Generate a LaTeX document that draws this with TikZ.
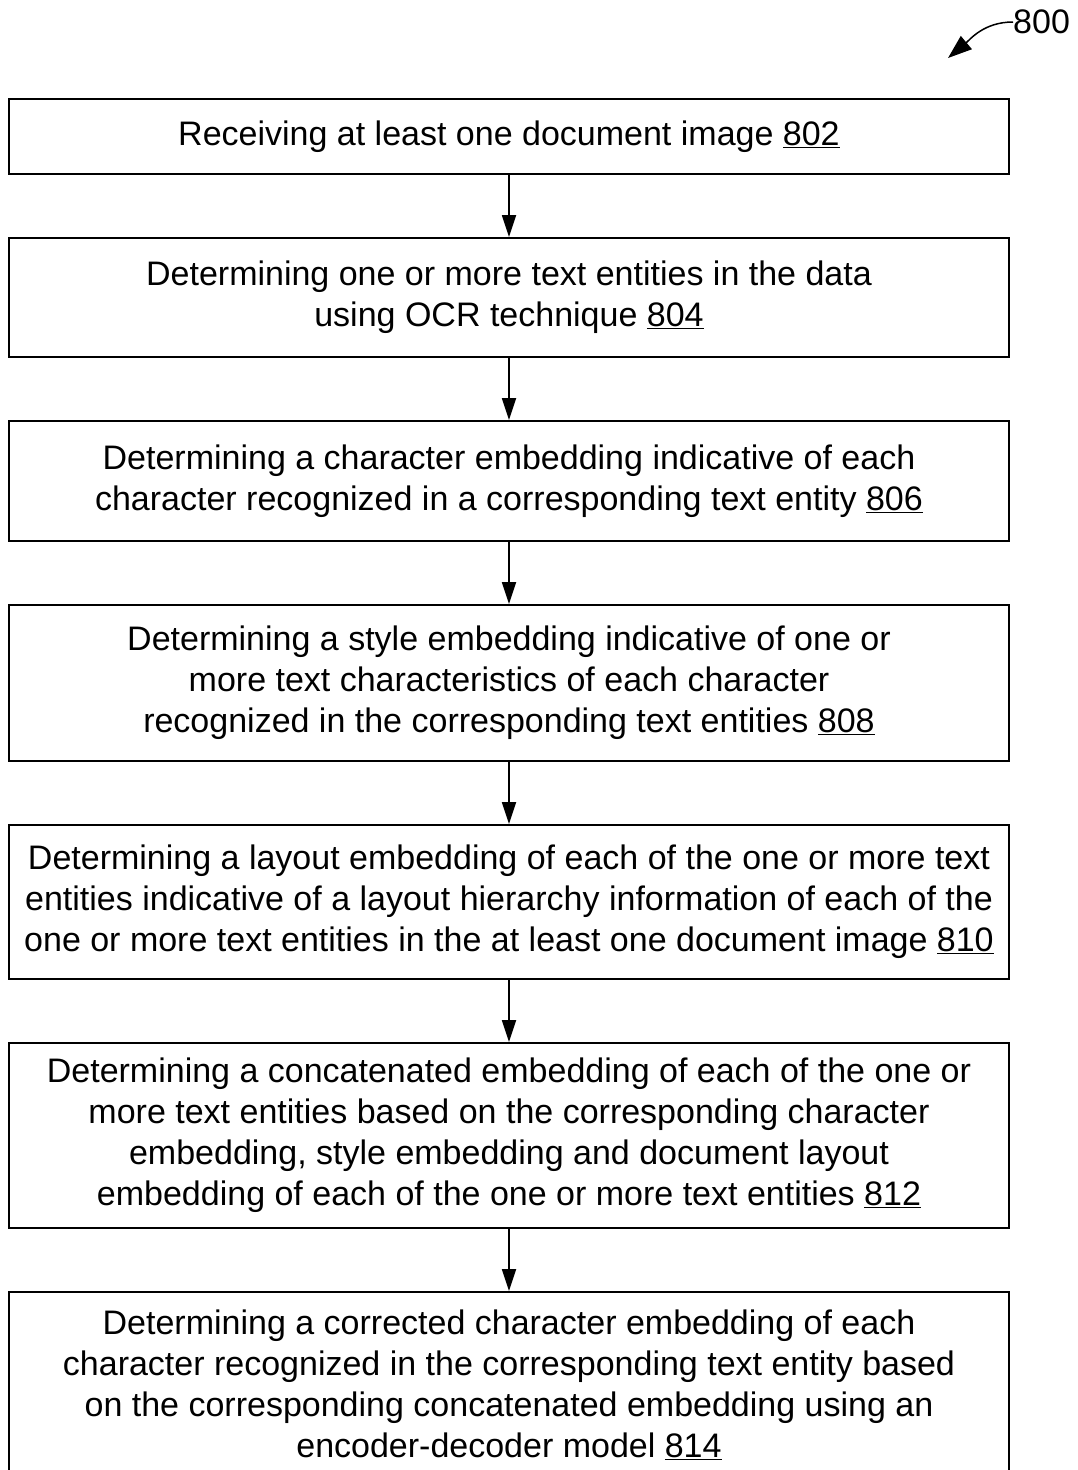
\documentclass[tikz,border=0pt]{standalone}
\usepackage{fontspec}
\setmainfont{Liberation Sans}
\usetikzlibrary{positioning,arrows.meta}
\tikzset{
	stepbox/.style={draw, line width=2pt, minimum width=1000pt, inner sep=0pt, align=center, font=\fontsize{34}{41}\selectfont},
	flow/.style={line width=1.8pt, -{Triangle[length=22pt,width=14pt]}},
}

\begin{document}
\begin{tikzpicture}[x=1pt, y=1pt, node distance=62pt]
			%%%%% START %%%%%
			\useasboundingbox (0,0) rectangle (1077,-1470);
			
			\node[stepbox, minimum height=75pt, anchor=north] (s802) at (509,-98) {Receiving at least one document image \underline{802}};
			\node[stepbox, minimum height=119pt, below=of s802] (s804) {Determining one or more text entities in the data\\using OCR technique \underline{804}};
			\node[stepbox, minimum height=120pt, below=of s804] (s806) {Determining a character embedding indicative of each\\character recognized in a corresponding text entity \underline{806}};
			\node[stepbox, minimum height=156pt, below=of s806] (s808) {Determining a style embedding indicative of one or\\more text characteristics of each character\\recognized in the corresponding text entities \underline{808}};
			\node[stepbox, minimum height=154pt, below=of s808] (s810) {Determining a layout embedding of each of the one or more text\\entities indicative of a layout hierarchy information of each of the\\one or more text entities in the at least one document image \underline{810}};
			\node[stepbox, minimum height=185pt, below=of s810] (s812) {Determining a concatenated embedding of each of the one or\\more text entities based on the corresponding character\\embedding, style embedding and document layout\\embedding of each of the one or more text entities \underline{812}};
			\node[stepbox, minimum height=185pt, below=of s812] (s814) {Determining a corrected character embedding of each\\character recognized in the corresponding text entity based\\on the corresponding concatenated embedding using an\\encoder-decoder model \underline{814}};
			
			\draw[flow] (s802) -- (s804);
			\draw[flow] (s804) -- (s806);
			\draw[flow] (s806) -- (s808);
			\draw[flow] (s808) -- (s810);
			\draw[flow] (s810) -- (s812);
			\draw[flow] (s812) -- (s814);
			
			% figure number
			\node[font=\fontsize{34}{41}\selectfont, inner sep=0pt, anchor=west] (fig800) at (1013,-22) {800};
			\coordinate (tip800) at (948,-58);
			\draw[line width=1.5pt, -{Triangle[length=24pt,width=17pt]}] (fig800.west) to[out=180, in=40] (tip800);
			
			%%%%% END %%%%%
\end{tikzpicture}
\end{document}
